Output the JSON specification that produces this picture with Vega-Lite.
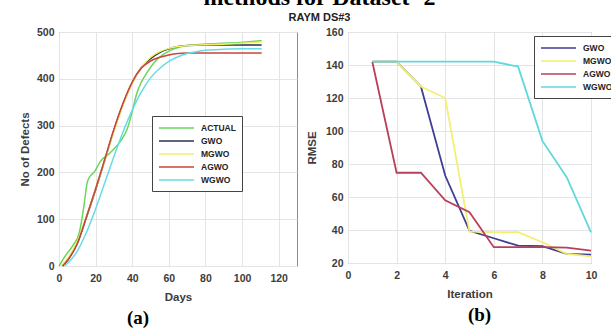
{
  "$schema": "https://vega.github.io/schema/vega-lite/v6.json",
  "background": "white",
  "autosize": {"type": "pad"},
  "padding": {"left": 18, "top": -15, "right": -9, "bottom": 0},
  "title": {
    "text": "methods for Dataset -2",
    "subtitle": "RAYM DS#3",
    "anchor": "middle",
    "font": "Liberation Serif",
    "fontSize": 24,
    "fontWeight": "bold",
    "color": "#000000",
    "subtitleFont": "Liberation Sans",
    "subtitleFontSize": 11,
    "subtitleFontWeight": "bold",
    "subtitleColor": "#222222",
    "subtitlePadding": 2,
    "offset": 4
  },
  "spacing": 7,
  "config": {
    "view": {"stroke": "#8c8c8c", "strokeWidth": 1},
    "axis": {
      "domain": false,
      "ticks": false,
      "grid": true,
      "gridColor": "#e4e4e4",
      "labelFlush": false,
      "labelFont": "Liberation Sans",
      "labelFontWeight": "bold",
      "labelFontSize": 10.5,
      "labelColor": "#3c3c3c",
      "labelPadding": 5,
      "titleFont": "Liberation Sans",
      "titleFontWeight": "bold",
      "titleFontSize": 11.5,
      "titleColor": "#3c3c3c"
    },
    "legend": {
      "labelFont": "Liberation Sans",
      "labelFontWeight": "bold",
      "labelFontSize": 8.5,
      "labelColor": "#222222",
      "symbolType": "M-1,0H6",
      "symbolSize": 100,
      "symbolStrokeWidth": 1.5,
      "labelOffset": 31,
      "rowPadding": 2,
      "padding": 6,
      "strokeColor": "#444444",
      "fillColor": "white",
      "title": null
    }
  },
  "resolve": {"scale": {"color": "independent"}, "legend": {"color": "independent"}},
  "hconcat": [
    {
      "width": 238,
      "height": 234,
      "title": {"text": "(a)", "orient": "bottom", "font": "Liberation Serif", "fontSize": 19, "fontWeight": "bold", "color": "#000000", "dx": -40, "offset": 6},
      "data": {"values": [
        {"s": "ACTUAL", "d": 0, "v": 0}, {"s": "ACTUAL", "d": 4, "v": 25}, {"s": "ACTUAL", "d": 8, "v": 46}, {"s": "ACTUAL", "d": 11, "v": 70}, {"s": "ACTUAL", "d": 12.5, "v": 100}, {"s": "ACTUAL", "d": 13.6, "v": 128}, {"s": "ACTUAL", "d": 15.4, "v": 178}, {"s": "ACTUAL", "d": 17, "v": 192}, {"s": "ACTUAL", "d": 19.1, "v": 200}, {"s": "ACTUAL", "d": 22.7, "v": 224}, {"s": "ACTUAL", "d": 28, "v": 242}, {"s": "ACTUAL", "d": 33.6, "v": 267}, {"s": "ACTUAL", "d": 37.2, "v": 292}, {"s": "ACTUAL", "d": 40, "v": 330}, {"s": "ACTUAL", "d": 42.6, "v": 370}, {"s": "ACTUAL", "d": 45, "v": 393}, {"s": "ACTUAL", "d": 48, "v": 413}, {"s": "ACTUAL", "d": 52, "v": 435}, {"s": "ACTUAL", "d": 57, "v": 452}, {"s": "ACTUAL", "d": 62, "v": 463}, {"s": "ACTUAL", "d": 67, "v": 469}, {"s": "ACTUAL", "d": 75, "v": 473}, {"s": "ACTUAL", "d": 82.6, "v": 475}, {"s": "ACTUAL", "d": 90, "v": 476}, {"s": "ACTUAL", "d": 100.7, "v": 478}, {"s": "ACTUAL", "d": 110.7, "v": 482},
        {"s": "GWO", "d": 2, "v": 0}, {"s": "GWO", "d": 5, "v": 14}, {"s": "GWO", "d": 10, "v": 48}, {"s": "GWO", "d": 15, "v": 104}, {"s": "GWO", "d": 20, "v": 163}, {"s": "GWO", "d": 25, "v": 226}, {"s": "GWO", "d": 30, "v": 290}, {"s": "GWO", "d": 35, "v": 346}, {"s": "GWO", "d": 40, "v": 392}, {"s": "GWO", "d": 45, "v": 424}, {"s": "GWO", "d": 50, "v": 443}, {"s": "GWO", "d": 55, "v": 456}, {"s": "GWO", "d": 60, "v": 464}, {"s": "GWO", "d": 65, "v": 469}, {"s": "GWO", "d": 70, "v": 471}, {"s": "GWO", "d": 80, "v": 472}, {"s": "GWO", "d": 90, "v": 472}, {"s": "GWO", "d": 100, "v": 472}, {"s": "GWO", "d": 110.7, "v": 472},
        {"s": "MGWO", "d": 1, "v": 0}, {"s": "MGWO", "d": 5, "v": 18}, {"s": "MGWO", "d": 10, "v": 52}, {"s": "MGWO", "d": 15, "v": 106}, {"s": "MGWO", "d": 20, "v": 165}, {"s": "MGWO", "d": 25, "v": 226}, {"s": "MGWO", "d": 30, "v": 288}, {"s": "MGWO", "d": 35, "v": 344}, {"s": "MGWO", "d": 40, "v": 390}, {"s": "MGWO", "d": 45, "v": 424}, {"s": "MGWO", "d": 50, "v": 446}, {"s": "MGWO", "d": 55, "v": 458}, {"s": "MGWO", "d": 60, "v": 465}, {"s": "MGWO", "d": 65, "v": 469}, {"s": "MGWO", "d": 70, "v": 471}, {"s": "MGWO", "d": 80, "v": 473}, {"s": "MGWO", "d": 90, "v": 474}, {"s": "MGWO", "d": 100, "v": 476}, {"s": "MGWO", "d": 110.7, "v": 478},
        {"s": "AGWO", "d": 2, "v": 0}, {"s": "AGWO", "d": 5, "v": 14}, {"s": "AGWO", "d": 10, "v": 48}, {"s": "AGWO", "d": 15, "v": 105}, {"s": "AGWO", "d": 20, "v": 165}, {"s": "AGWO", "d": 25, "v": 228}, {"s": "AGWO", "d": 30, "v": 292}, {"s": "AGWO", "d": 35, "v": 348}, {"s": "AGWO", "d": 40, "v": 393}, {"s": "AGWO", "d": 45, "v": 423}, {"s": "AGWO", "d": 50, "v": 438}, {"s": "AGWO", "d": 55, "v": 446}, {"s": "AGWO", "d": 60, "v": 451}, {"s": "AGWO", "d": 65, "v": 454}, {"s": "AGWO", "d": 70, "v": 455}, {"s": "AGWO", "d": 80, "v": 455}, {"s": "AGWO", "d": 90, "v": 455}, {"s": "AGWO", "d": 100, "v": 455}, {"s": "AGWO", "d": 110.7, "v": 455},
        {"s": "WGWO", "d": 3, "v": 0}, {"s": "WGWO", "d": 5, "v": 7}, {"s": "WGWO", "d": 10, "v": 32}, {"s": "WGWO", "d": 15, "v": 72}, {"s": "WGWO", "d": 20, "v": 122}, {"s": "WGWO", "d": 25, "v": 178}, {"s": "WGWO", "d": 30, "v": 234}, {"s": "WGWO", "d": 35, "v": 287}, {"s": "WGWO", "d": 40, "v": 333}, {"s": "WGWO", "d": 45, "v": 372}, {"s": "WGWO", "d": 50, "v": 402}, {"s": "WGWO", "d": 55, "v": 422}, {"s": "WGWO", "d": 60, "v": 437}, {"s": "WGWO", "d": 65, "v": 447}, {"s": "WGWO", "d": 70, "v": 454}, {"s": "WGWO", "d": 75, "v": 458}, {"s": "WGWO", "d": 80, "v": 461}, {"s": "WGWO", "d": 90, "v": 463}, {"s": "WGWO", "d": 100, "v": 464}, {"s": "WGWO", "d": 110.7, "v": 464}
      ]},
      "mark": {"type": "line", "strokeWidth": 1.5, "interpolate": "monotone"},
      "encoding": {
        "x": {"field": "d", "type": "quantitative", "scale": {"domain": [0, 130], "nice": false}, "axis": {"title": "Days", "values": [0, 20, 40, 60, 80, 100, 120], "titlePadding": 8, "labelPadding": 7}},
        "y": {"field": "v", "type": "quantitative", "scale": {"domain": [0, 500], "nice": false}, "axis": {"title": "No of Defects", "values": [0, 100, 200, 300, 400, 500], "titlePadding": 6}},
        "color": {"field": "s", "type": "nominal",
          "scale": {"domain": ["ACTUAL", "GWO", "MGWO", "AGWO", "WGWO"], "range": ["#6ad65a", "#263447", "#f3ef6a", "#c8453a", "#66dce6"]},
          "legend": {"orient": "none", "legendX": 93, "legendY": 84}}
      }
    },
    {
      "width": 243,
      "height": 231,
      "title": {"text": "(b)", "orient": "bottom", "font": "Liberation Serif", "fontSize": 19, "fontWeight": "bold", "color": "#000000", "dx": 10, "offset": 6},
      "data": {"values": [
        {"s": "GWO", "i": 1, "r": 142}, {"s": "GWO", "i": 2, "r": 142}, {"s": "GWO", "i": 3, "r": 127}, {"s": "GWO", "i": 4, "r": 73}, {"s": "GWO", "i": 5, "r": 39.5}, {"s": "GWO", "i": 6, "r": 35}, {"s": "GWO", "i": 7, "r": 30.5}, {"s": "GWO", "i": 8, "r": 30.2}, {"s": "GWO", "i": 9, "r": 25.5}, {"s": "GWO", "i": 10, "r": 25},
        {"s": "MGWO", "i": 1, "r": 142}, {"s": "MGWO", "i": 2, "r": 142}, {"s": "MGWO", "i": 3, "r": 127}, {"s": "MGWO", "i": 4, "r": 120}, {"s": "MGWO", "i": 5, "r": 39}, {"s": "MGWO", "i": 6, "r": 38.7}, {"s": "MGWO", "i": 7, "r": 38.7}, {"s": "MGWO", "i": 8, "r": 32.6}, {"s": "MGWO", "i": 9, "r": 25.5}, {"s": "MGWO", "i": 10, "r": 24},
        {"s": "AGWO", "i": 1, "r": 142}, {"s": "AGWO", "i": 2, "r": 74.7}, {"s": "AGWO", "i": 3, "r": 74.7}, {"s": "AGWO", "i": 4, "r": 58}, {"s": "AGWO", "i": 5, "r": 50.8}, {"s": "AGWO", "i": 6, "r": 29.6}, {"s": "AGWO", "i": 7, "r": 29.6}, {"s": "AGWO", "i": 8, "r": 29.6}, {"s": "AGWO", "i": 9, "r": 29.3}, {"s": "AGWO", "i": 10, "r": 27.5},
        {"s": "WGWO", "i": 1, "r": 142}, {"s": "WGWO", "i": 2, "r": 142}, {"s": "WGWO", "i": 3, "r": 142}, {"s": "WGWO", "i": 4, "r": 142}, {"s": "WGWO", "i": 5, "r": 142}, {"s": "WGWO", "i": 6, "r": 142}, {"s": "WGWO", "i": 7, "r": 139}, {"s": "WGWO", "i": 8, "r": 94}, {"s": "WGWO", "i": 9, "r": 72}, {"s": "WGWO", "i": 10, "r": 38.5}
      ]},
      "mark": {"type": "line", "strokeWidth": 1.8},
      "encoding": {
        "x": {"field": "i", "type": "quantitative", "scale": {"domain": [0, 10], "nice": false}, "axis": {"title": "Iteration", "values": [0, 2, 4, 6, 8, 10], "titlePadding": 8, "labelPadding": 7}},
        "y": {"field": "r", "type": "quantitative", "scale": {"domain": [20, 160], "nice": false, "zero": false}, "axis": {"title": "RMSE", "values": [20, 40, 60, 80, 100, 120, 140, 160], "titlePadding": 8}},
        "color": {"field": "s", "type": "nominal",
          "scale": {"domain": ["GWO", "MGWO", "AGWO", "WGWO"], "range": ["#3e3e94", "#f3ef72", "#b8405a", "#60d8dc"]},
          "legend": {"orient": "none", "legendX": 186, "legendY": 4}}
      }
    }
  ]
}
